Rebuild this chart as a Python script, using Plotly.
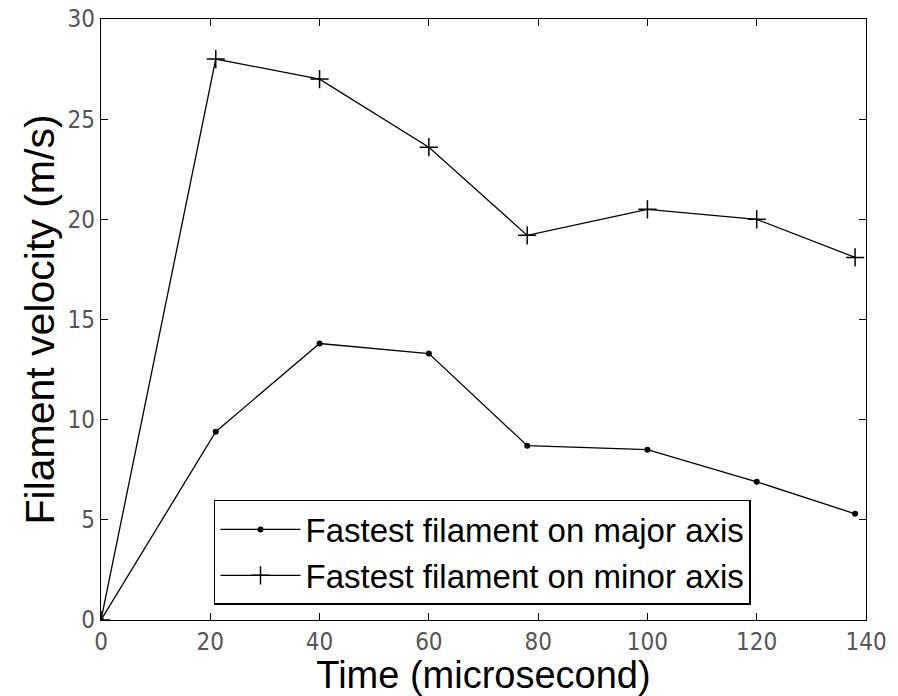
import plotly.graph_objects as go

time_major = [0, 21, 40, 60, 78, 100, 120, 138]
vel_major = [0, 9.4, 13.8, 13.3, 8.7, 8.5, 6.9, 5.3]
time_minor = [0, 21, 40, 60, 78, 100, 120, 138]
vel_minor = [0, 28.0, 27.0, 23.6, 19.2, 20.5, 20.0, 18.1]

x_ticks = [0, 20, 40, 60, 80, 100, 120, 140]
y_ticks = [0, 5, 10, 15, 20, 25, 30]

fig = go.Figure()
fig.add_trace(go.Scatter(
    x=time_major, y=vel_major, mode="lines+markers",
    name="Fastest filament on major axis",
    line=dict(color="black", width=1.3),
    marker=dict(symbol="circle", size=6, color="black"),
))
fig.add_trace(go.Scatter(
    x=time_minor, y=vel_minor, mode="lines+markers",
    name="Fastest filament on minor axis",
    line=dict(color="black", width=1.3),
    marker=dict(symbol="cross-thin", size=13, color="black",
                line=dict(color="black", width=1.5)),
))

tick_font = dict(family="Liberation Sans Narrow, Arial Narrow, DejaVu Sans Condensed, Arial",
                 size=24, color="#555")
axis_common = dict(
    showgrid=False, zeroline=False, showline=True, linecolor="black",
    linewidth=1.3, mirror="ticks", ticks="inside", ticklen=7,
    tickcolor="black", tickwidth=1.2, tickfont=tick_font, automargin=False,
)

fig.update_layout(
    width=898, height=696,
    paper_bgcolor="white", plot_bgcolor="white",
    margin=dict(l=101, r=32, t=19, b=76),
    font=dict(family="Arial, Liberation Sans", color="black"),
    xaxis=dict(range=[0, 140], tickvals=x_ticks,
               title=dict(text="Time (microsecond)", font=dict(size=38)),
               **axis_common),
    yaxis=dict(range=[0, 30], tickvals=y_ticks,
               title=dict(text="\u00a0\u00a0\u00a0\u00a0Filament velocity (m/s)",
                          font=dict(size=41), standoff=0),
               **axis_common),
    legend=dict(x=0.1477, y=0.025, xanchor="left", yanchor="bottom",
                bgcolor="white", bordercolor="black", borderwidth=1.5,
                itemwidth=80,
                font=dict(size=33, color="black"), tracegroupgap=0),
    showlegend=True,
)

fig.write_html("out.html")
